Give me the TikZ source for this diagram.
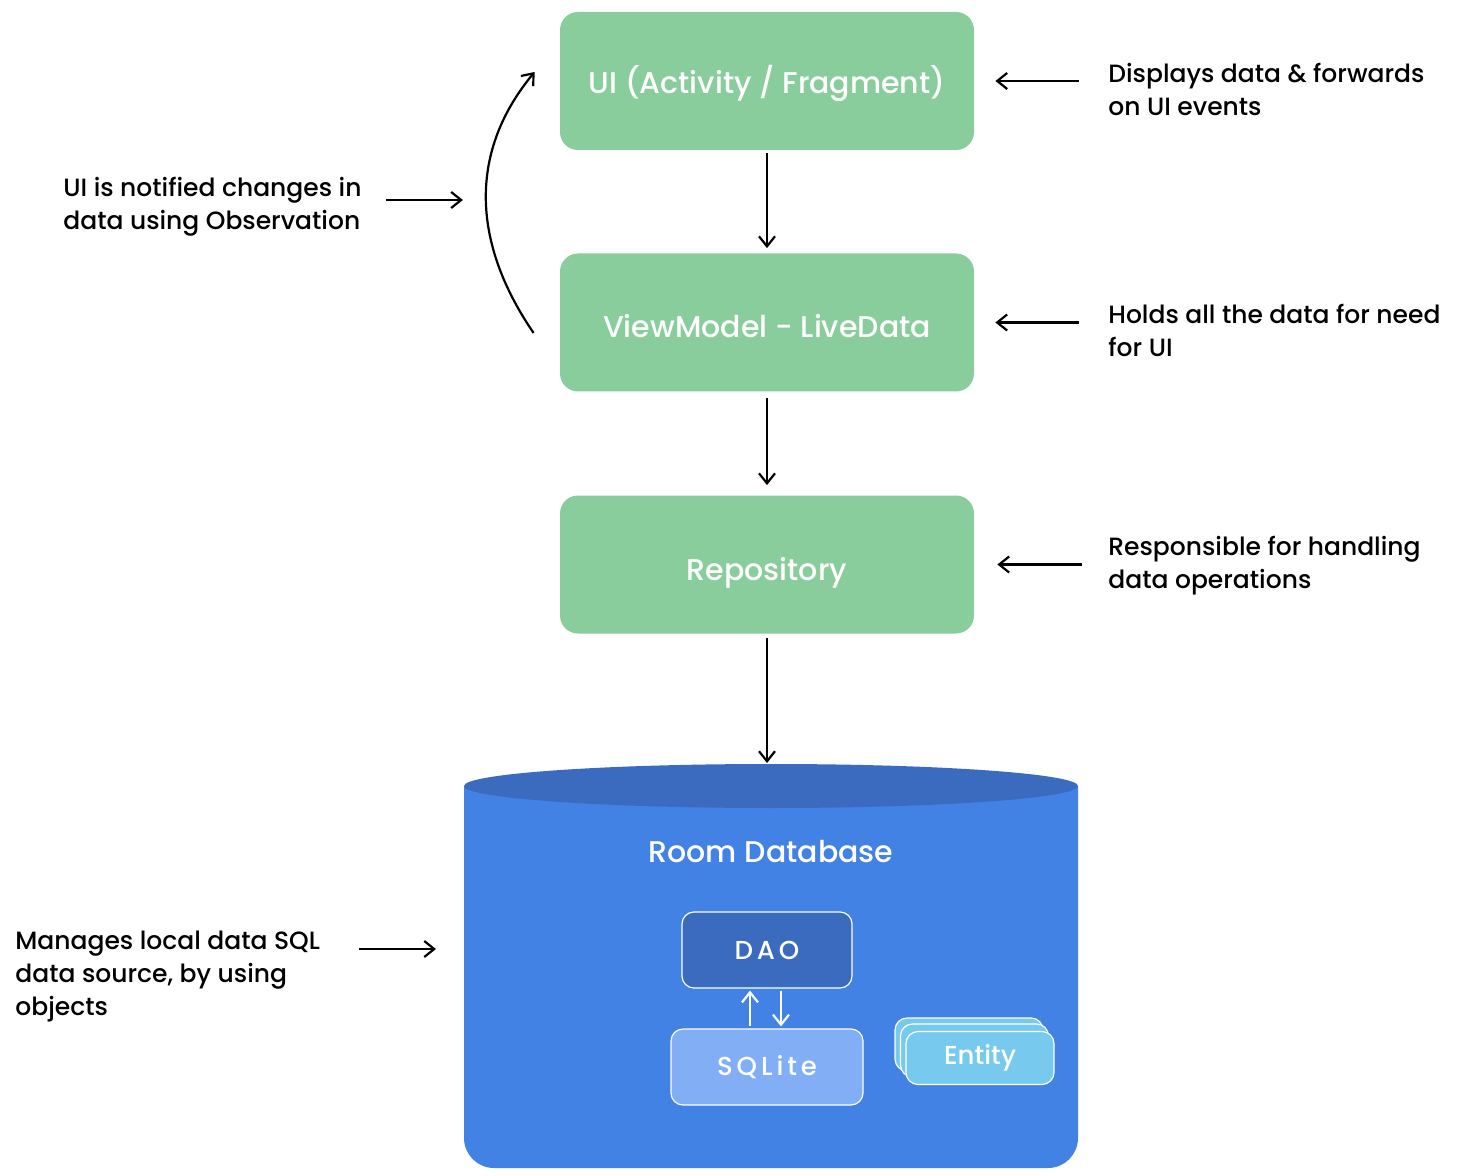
\documentclass[tikz,border=0pt]{standalone}
\usepackage{fontspec}
\setmainfont{Poppins}[UprightFont={* Medium}, BoldFont={* SemiBold}]
\usetikzlibrary{arrows.meta}

\definecolor{layergreen}{HTML}{89CD9D}
\definecolor{roomblue}{HTML}{4282E4}
\definecolor{roomtop}{HTML}{3A6BBE}
\definecolor{sqliteblue}{HTML}{82AEF6}
\definecolor{entityblue}{HTML}{77CAEE}

\tikzset{
  layer/.style={fill=layergreen, rounded corners=9pt, minimum width=207pt,
    minimum height=69pt, text=white, text height=15pt, text depth=2pt,
    font=\fontsize{15}{18}\selectfont},
  note/.style={anchor=west, align=left, inner sep=0pt,
    font=\fontsize{12.5}{16.5}\selectfont},
  arr/.style={-{Straight Barb[length=5pt,width=8pt]}, line width=1.1pt},
  inbox/.style={draw=white, line width=0.6pt, rounded corners=6pt,
    text=white, font=\fontsize{13}{15}\selectfont},
  entitybox/.style={inbox, fill=entityblue, minimum width=74pt, minimum height=26.5pt},
}

\begin{document}
\begin{tikzpicture}[x=0.5pt, y=-0.5pt]
        \useasboundingbox[fill=white] (0,0) rectangle (1482,1176);

        % layers
        \node[layer] (ui) at (767,81) {UI (Activity / Fragment)};
        \node[layer, text height=17pt] (vm) at (767,322.5) {ViewModel - LiveData};
        \node[layer, text height=17.5pt] (repo) at (767,564.5) {Repository};

        % room database cylinder
        \fill[roomblue] (464,786) [rounded corners=15pt] -- (464,1168) -- (1078,1168)
            [sharp corners] -- (1078,786) -- cycle;
        \fill[roomtop] (771,786) ellipse [x radius=307, y radius=22];
        \coordinate (dbtop) at (767,763);
        \coordinate (dbleft) at (464,949);
        \node[text=white, font=\fontsize{15}{18}\selectfont] (room) at (771,852) {Room Database};

        \node[inbox, fill=roomtop, minimum width=85pt, minimum height=38pt] (dao) at (767,950)
            {\addfontfeature{LetterSpace=15}DAO};
        \node[inbox, fill=sqliteblue, minimum width=96pt, minimum height=38pt] (sqlite) at (767,1067)
            {\addfontfeature{LetterSpace=15}SQLite};
        \node[entitybox] (entity3) at (969,1044.5) {};
        \node[entitybox] (entity2) at (974.5,1050.5) {};
        \node[entitybox] (entity) at (980,1058) {Entity};

        \draw[arr, white] ([xshift=-8.5pt,yshift=1pt]sqlite.north) -- ([xshift=-8.5pt,yshift=-1pt]dao.south);
        \draw[arr, white] ([xshift=7pt,yshift=-1pt]dao.south) -- ([xshift=7pt,yshift=1pt]sqlite.north);

        % flow
        \draw[arr] ([yshift=-1.5pt]ui.south) -- ([yshift=2.5pt]vm.north);
        \draw[arr] ([yshift=-3pt]vm.south) -- ([yshift=5pt]repo.north);
        \draw[arr] ([yshift=-2pt]repo.south) -- (dbtop);

        % notes
        \node[note] (nui) at (1108,89.5) {Displays data \& forwards\\on UI events};
        \node[note] (nvm) at (1108,330.5) {Holds all the data for need\\for UI};
        \node[note] (nrepo) at (1108,565.5) {Responsible for handling\\data operations};
        \node[note] (nobs) at (63,206.5) {UI is notified changes in\\data using Observation};
        \node[note] (nroom) at (15,977) {Manages local data SQL\\data source, by using\\objects};

        \draw[arr] ([xshift=-14.5pt]nui.west |- ui.east) -- ([xshift=10.5pt]ui.east);
        \draw[arr] ([xshift=-14.5pt]nvm.west |- vm.east) -- ([xshift=10.5pt]vm.east);
        \draw[arr] ([xshift=-13pt]nrepo.west |- repo.east) -- ([xshift=11.5pt]repo.east);
        \draw[arr] ([xshift=12pt,yshift=3.25pt]nobs.east) -- ([xshift=50.5pt,yshift=3.25pt]nobs.east);
        \draw[arr] ([xshift=-52.5pt]dbleft) -- ([xshift=-14pt]dbleft);

        % observation
        \draw[arr] ([xshift=-13pt,yshift=-5.25pt]vm.west) .. controls (470,240) and (470,150)
            .. ([xshift=-12.5pt,yshift=4.5pt]ui.west);
    \end{tikzpicture}
\end{document}
